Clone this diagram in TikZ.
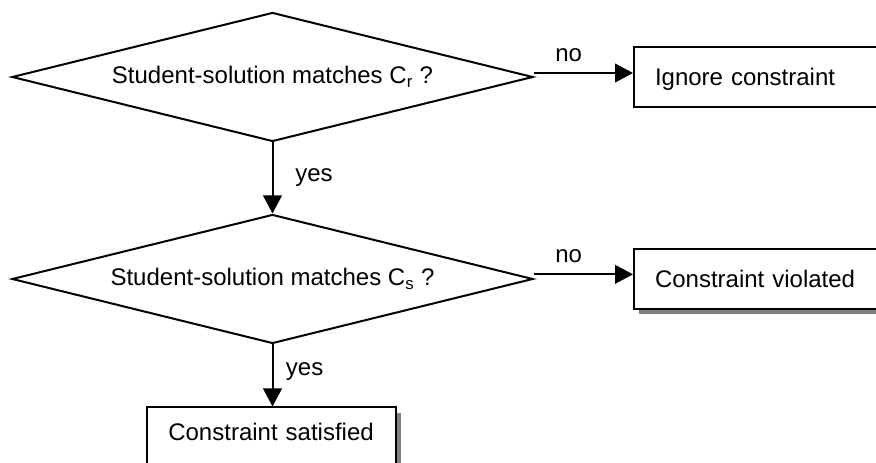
\documentclass[tikz,border=0pt]{standalone}
\usepackage{fontspec}
\setmainfont{Liberation Sans}
\usetikzlibrary{shapes.geometric, positioning, arrows.meta, shadows}
\tikzset{
>={Triangle[length=13.5pt, width=14pt]}, % big solid heads
every node/.style={font=\fontsize{18}{22}\selectfont}, % Arial-like text
flow/.style={->, line width=1.5pt}, % connectors between the steps
decision/.style={diamond, draw, line width=1.5pt, aspect=4, minimum width=390.75pt, minimum height=96.75pt, inner sep=0pt}, % the two tests
outcome/.style={rectangle, draw, line width=1.5pt, fill=white, minimum width=187.5pt, minimum height=45.5pt, text width=156pt, align=left, inner xsep=15.75pt, inner ysep=0pt, text height=12.4pt, text depth=0pt}, % result boxes
shadowed/.style={general shadow={fill=gray, shadow xshift=4pt, shadow yshift=-4pt}}, % grey drop shadow
}
\begin{document}
\begin{tikzpicture}[x=0.75pt, y=-0.75pt]
    \useasboundingbox (0,0) rectangle (876,463);
    \clip (0,0) rectangle (876,463);

    \node[decision] (d1) at (272.5,77) {Student-solution matches C\textsubscript{r} ?};
    \node[decision, below=53.25pt of d1] (d2) {Student-solution matches C\textsubscript{s} ?};

    \node[outcome, right=74.25pt of d1] (ign) {Ignore constraint};
    \node[outcome, shadowed, right=74.25pt of d2, minimum height=45pt] (vio) {Constraint violated};
    \node[outcome, shadowed, below=46.5pt of d2, xshift=-1.1pt, minimum width=186.75pt, text width=155.25pt, align=center, minimum height=0pt, inner ysep=12.3pt, text depth=15pt] (sat) {Constraint satisfied};

    \draw[flow] ([yshift=3pt]d1.east) -- node[above=4.5pt, pos=0.35] (no1) {no} ([yshift=3pt]d1.east -| ign.west);
    \draw[flow] (d1.south) -- node[right=13pt, pos=0.5] (yes1) {yes} (d2.north);
    \draw[flow] ([yshift=3.5pt]d2.east) -- node[above=4.5pt, pos=0.35] (no2) {no} ([yshift=3.5pt]d2.east -| vio.west);
    \draw[flow] (d2.south) -- node[right=6pt, pos=0.44] (yes2) {yes} (d2.south |- sat.north);
\end{tikzpicture}
\end{document}
